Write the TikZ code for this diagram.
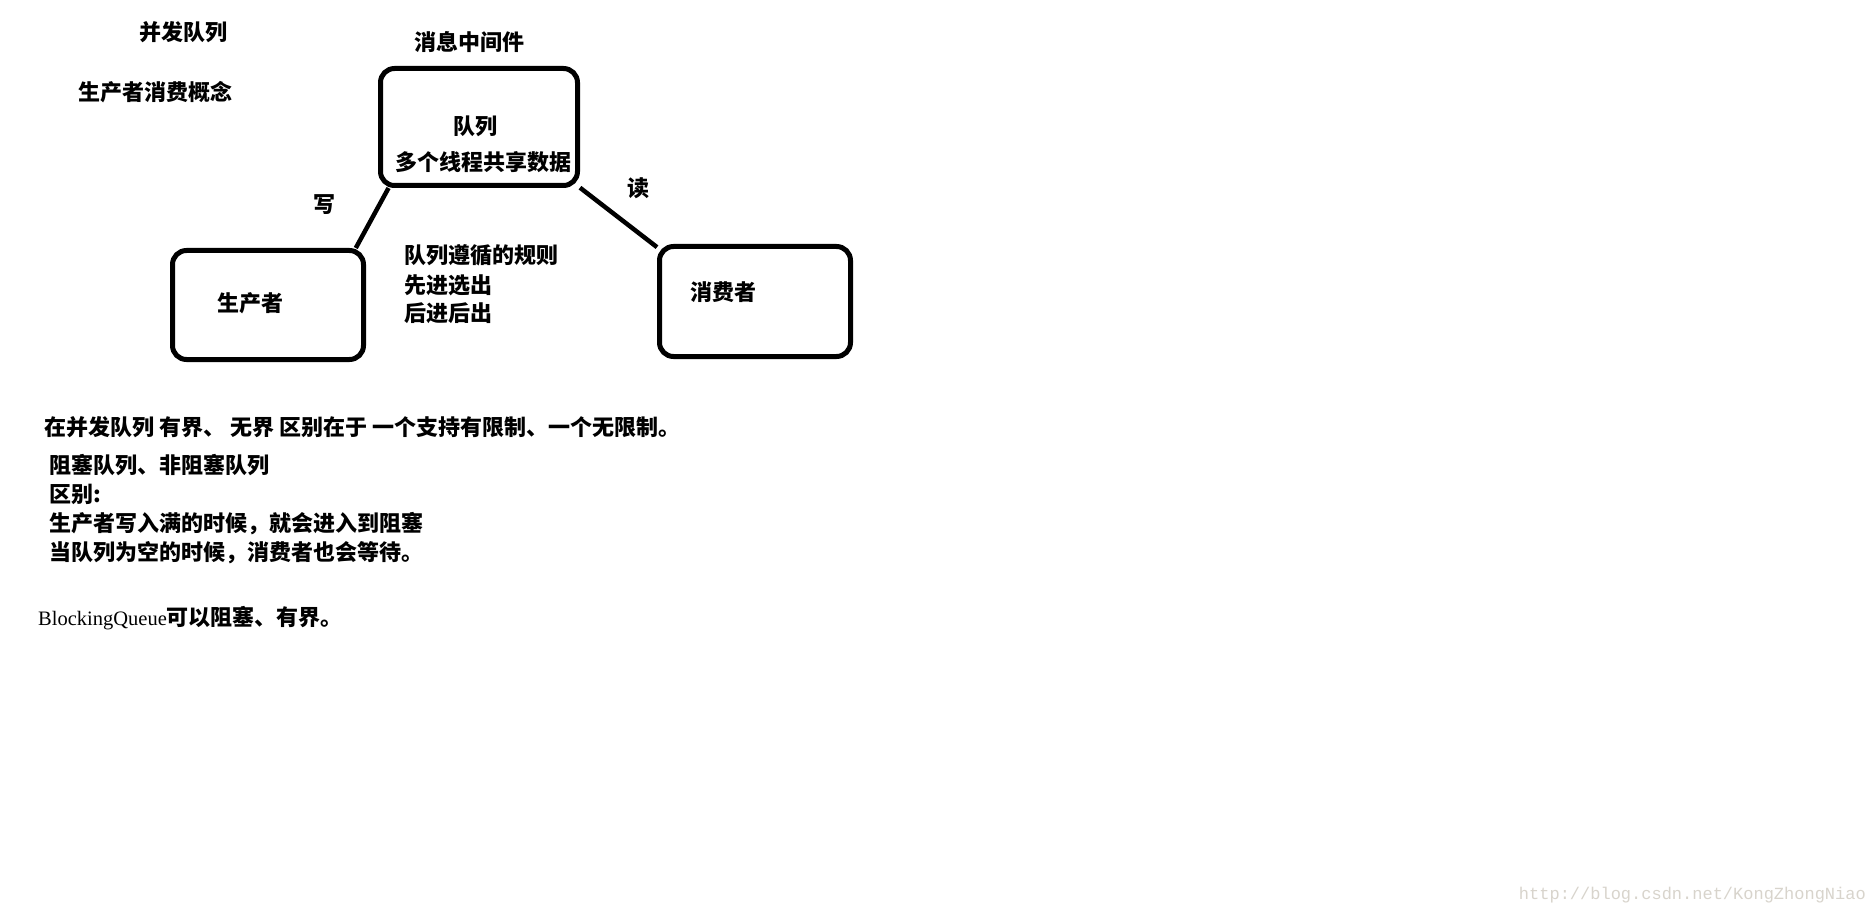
\documentclass[tikz,border=0pt]{standalone}
\usepackage{fontspec}
\setmainfont{Liberation Serif}
\newfontfamily\cjk{Noto Sans CJK SC}
\newfontfamily\markfont{Liberation Mono}
\usetikzlibrary{positioning}
\definecolor{markgray}{HTML}{D8D4CC}

\begin{document}
\begin{tikzpicture}[x=1pt, y=-1pt,
        roundbox/.style={draw, line width=5pt, rounded corners=14pt, inner sep=0pt},
        cntext/.style={font=\cjk\bfseries\fontsize{22}{26}\selectfont, inner sep=0pt},
        notetext/.style={cntext, anchor=west},
        link/.style={line width=4.5pt},
    ]
    \useasboundingbox[fill=white] (0,0) rectangle (1876,917);

    % === Titles ===
    \node[cntext] (title) at (183, 32) {并发队列};
    \node[cntext] (concept) at (155, 92) {生产者消费概念};
    \node[cntext] (mq) at (469, 42) {消息中间件};

    % === Boxes ===
    \node[roundbox, minimum width=197pt, minimum height=117pt] (queue) at (479, 127) {};
    \node[roundbox, minimum width=191pt, minimum height=109pt] (producer) at (268, 305) {};
    \node[roundbox, minimum width=191pt, minimum height=110pt] (consumer) at (755, 301.5) {};

    % texts inside
    \node[cntext] (qname) at (475, 126) {队列};
    \node[cntext] (qdesc) at (483, 162) {多个线程共享数据};
    \node[cntext] (pname) at (250, 303) {生产者};
    \node[cntext] (cname) at (723, 292) {消费者};

    % === Links ===
    \draw[link] (producer.33) -- (queue.214);
    \draw[link] (queue.329) -- (consumer.151);
    \node[cntext] (write) at (324, 205) {写};
    \node[cntext] (read) at (638, 188) {读};

    % Rules of the queue
    \node[notetext] (rule1) at (404, 255) {队列遵循的规则};
    \node[notetext] (rule2) at (404, 285) {先进选出};
    \node[notetext] (rule3) at (404, 313) {后进后出};

    % === Notes below ===
    \node[notetext] (note1) at (44, 427) {在并发队列 有界、 无界 区别在于 一个支持有限制、一个无限制。};
    \node[notetext] (note2) at (49, 465) {阻塞队列、非阻塞队列};
    \node[notetext] (note3) at (49, 494) {区别:};
    \node[notetext] (note4) at (49, 524) {生产者写入满的时候，就会进入到阻塞};
    \node[notetext] (note5) at (49, 553) {当队列为空的时候，消费者也会等待。};
    \node[notetext] (note6) at (38, 618) {{\rmfamily\mdseries\fontsize{20.5}{24}\selectfont BlockingQueue}可以阻塞、有界。};

    % watermark
    \node[font=\markfont\fontsize{17}{20}\selectfont, text=markgray, anchor=east, inner sep=0pt] (mark) at (1866, 895) {http://blog.csdn.net/KongZhongNiao};
\end{tikzpicture}
\end{document}
